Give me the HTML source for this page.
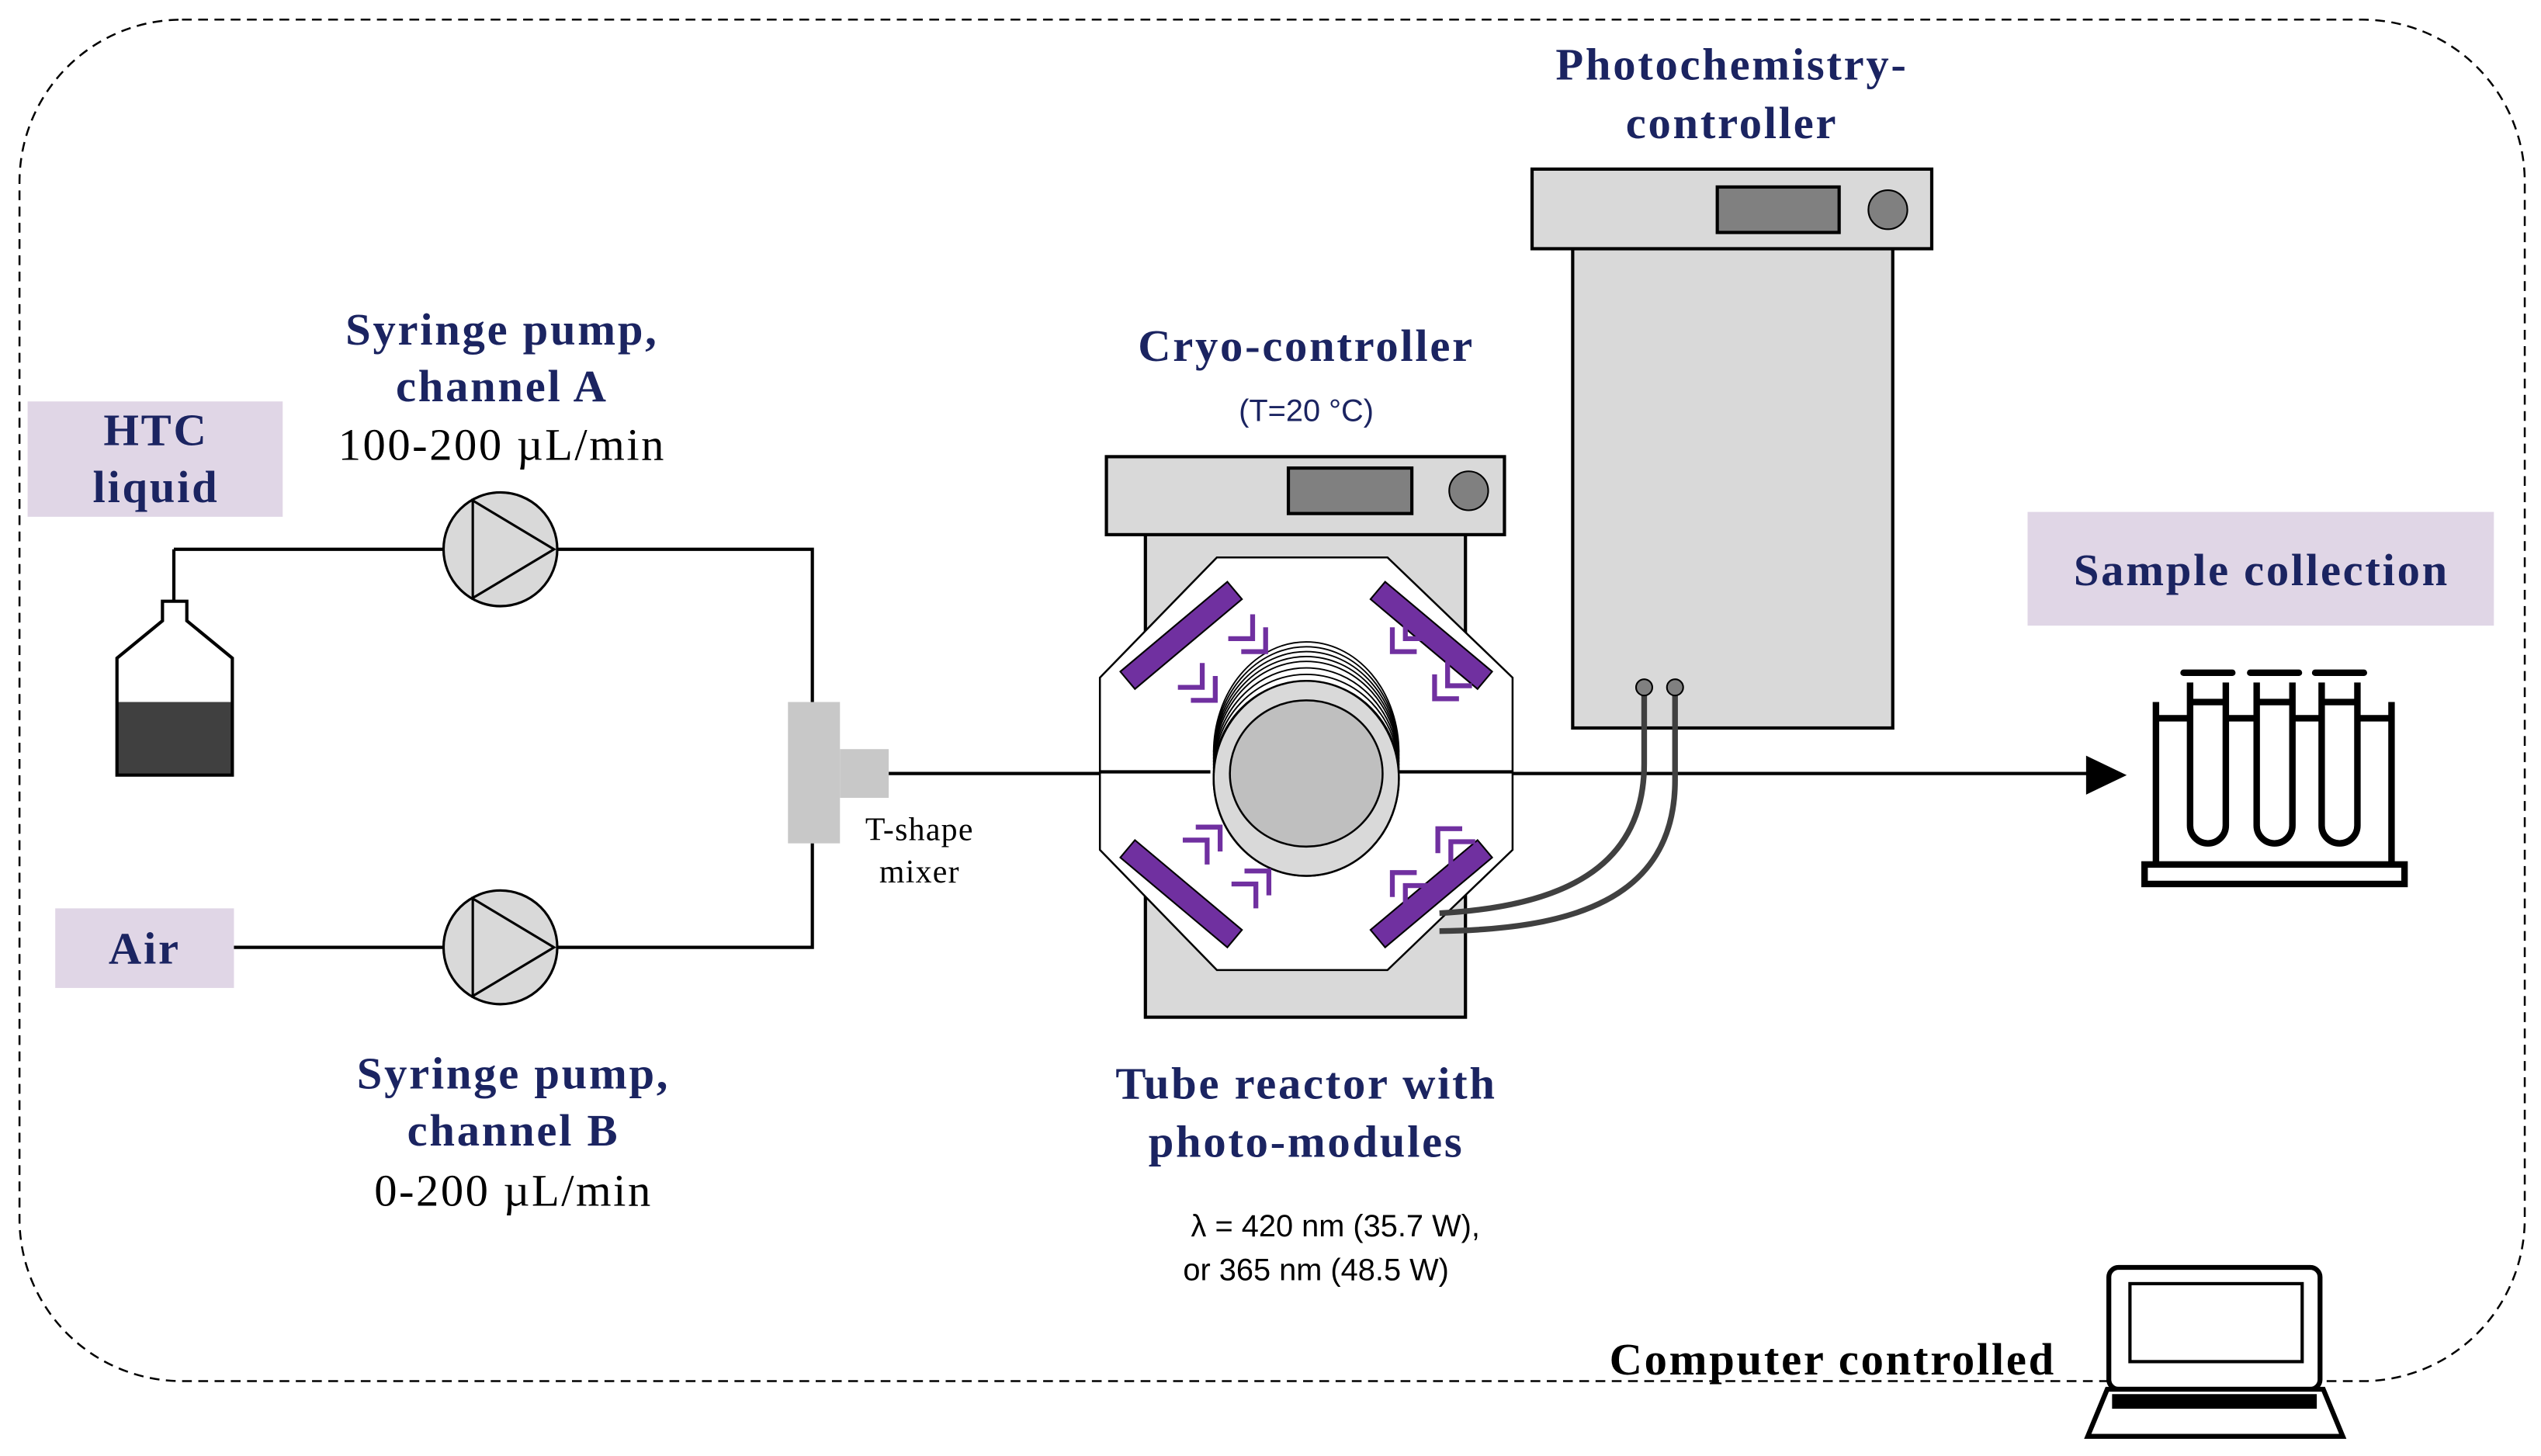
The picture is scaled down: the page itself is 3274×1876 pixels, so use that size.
<!DOCTYPE html>
<html><head><meta charset="utf-8"><style>
html,body{margin:0;padding:0;background:#fff;}
svg{display:block;}
.b{font-family:"Liberation Serif",serif;font-weight:bold;fill:#1b2461;font-size:28px;letter-spacing:1.3px;text-anchor:middle;}
.r{font-family:"Liberation Serif",serif;fill:#000;font-size:28px;letter-spacing:1.2px;text-anchor:middle;}
.s{font-family:"Liberation Serif",serif;fill:#000;font-size:20px;letter-spacing:0.6px;text-anchor:middle;}
.ss{font-family:"Liberation Sans",sans-serif;fill:#000;font-size:19px;text-anchor:middle;}
</style></head><body>
<svg width="3274" height="1876" viewBox="0 0 1564 896" xmlns="http://www.w3.org/2000/svg">
<rect x="12" y="12" width="1542" height="838" rx="100" fill="none" stroke="#000" stroke-width="1.2" stroke-dasharray="6,4"/>

<rect x="17" y="247" width="157" height="71" fill="#e0d6e6"/>
<text class="b" x="96" y="274">HTC</text>
<text class="b" x="96" y="309">liquid</text>
<rect x="34" y="559" width="110" height="49" fill="#e0d6e6"/>
<text class="b" x="89" y="593">Air</text>
<rect x="1248" y="315" width="287" height="70" fill="#e0d6e6"/>
<text class="b" x="1392" y="360">Sample collection</text>

<path d="M107,338 V370" stroke="#000" stroke-width="2" fill="none"/>
<rect x="72" y="432" width="71" height="45" fill="#404040"/>
<path d="M100,370 H115 V382 L143,405 V477 H72 V405 L100,382 Z" fill="none" stroke="#000" stroke-width="2"/>

<g stroke="#000" stroke-width="2" fill="none">
<path d="M107,338 H273"/>
<path d="M343,338 H500 V432"/>
<path d="M144,583 H273"/>
<path d="M343,583 H500 V519"/>
<path d="M547,476 H1290"/>
</g>
<polygon points="1284,465 1309,477 1284,489" fill="#000"/>

<circle cx="308" cy="338" r="35" fill="#d9d9d9" stroke="#000" stroke-width="1.5"/>
<polygon points="291,308 291,368 341,338" fill="#d9d9d9" stroke="#000" stroke-width="1.5"/>
<circle cx="308" cy="583" r="35" fill="#d9d9d9" stroke="#000" stroke-width="1.5"/>
<polygon points="291,553 291,613 341,583" fill="#d9d9d9" stroke="#000" stroke-width="1.5"/>

<rect x="485" y="432" width="32" height="87" fill="#c8c8c8"/>
<rect x="517" y="461" width="30" height="30" fill="#c8c8c8"/>
<text class="s" x="566" y="517">T-shape</text>
<text class="s" x="566" y="543">mixer</text>

<text class="b" x="309" y="212">Syringe pump,</text>
<text class="b" x="309" y="247">channel A</text>
<text class="r" x="309" y="283">100-200 µL/min</text>
<text class="b" x="316" y="670">Syringe pump,</text>
<text class="b" x="316" y="705">channel B</text>
<text class="r" x="316" y="742">0-200 µL/min</text>

<text class="b" x="804" y="222">Cryo-controller</text>
<text class="ss" x="804" y="259" style="fill:#1b2461">(T=20 °C)</text>
<rect x="705" y="329" width="197" height="297" fill="#d9d9d9" stroke="#000" stroke-width="2"/>
<rect x="681" y="281" width="245" height="48" fill="#d9d9d9" stroke="#000" stroke-width="2"/>
<rect x="793" y="288" width="76" height="28" fill="#808080" stroke="#000" stroke-width="2"/>
<circle cx="904" cy="302" r="12" fill="#808080" stroke="#000" stroke-width="1"/>
<polygon points="749,343 854,343 931,417 931,523 854,597 749,597 677,523 677,417" fill="#fff" stroke="#000" stroke-width="1.2"/>
<path d="M677,475 H745 M858,475 H931" stroke="#000" stroke-width="2"/>

<clipPath id="lo"><rect x="740" y="476" width="130" height="80"/></clipPath>
<ellipse cx="804" cy="479" rx="57" ry="60" fill="#d9d9d9" stroke="#000" stroke-width="1.2"/>
<g fill="none" stroke="#000" stroke-width="0.9">
<path d="M747,477 A57,58 0 0 1 861,477"/>
<path d="M747,475 A57,60 0 0 1 861,475"/>
<path d="M747,473 A57,62 0 0 1 861,473"/>
<path d="M747,471 A57,64 0 0 1 861,471"/>
<path d="M747,469 A57,65 0 0 1 861,469"/>
<path d="M747,467 A57,66 0 0 1 861,467"/>
<path d="M747,465 A57,67 0 0 1 861,465"/>
<path d="M747,463 A57,68 0 0 1 861,463"/>
</g>
<ellipse cx="804" cy="479" rx="57" ry="60" fill="#d9d9d9" stroke="#000" stroke-width="1.2" clip-path="url(#lo)"/>
<ellipse cx="804" cy="476" rx="47" ry="45" fill="#bfbfbf" stroke="#000" stroke-width="1.2"/>

<g fill="#7030a0" stroke="#000" stroke-width="1">
<rect x="-43" y="-7" width="86" height="14" transform="translate(727,391) rotate(-40)"/>
<rect x="-43" y="-7" width="86" height="14" transform="translate(881,391) rotate(40)"/>
<rect x="-43" y="-7" width="86" height="14" transform="translate(727,550) rotate(40)"/>
<rect x="-43" y="-7" width="86" height="14" transform="translate(881,550) rotate(-40)"/>
</g>
<g fill="none" stroke="#7030a0" stroke-width="3">
<path d="M771,378 V393 H756"/><path d="M779,386 V401 H764"/>
<path d="M740,408 V423 H725"/><path d="M748,416 V431 H733"/>
<path d="M865,378 V393 H880"/><path d="M857,386 V401 H872"/>
<path d="M891,407 V422 H906"/><path d="M883,415 V430 H898"/>
<path d="M736,509 H751 V524"/><path d="M728,517 H743 V532"/>
<path d="M766,536 H781 V551"/><path d="M758,544 H773 V559"/>
<path d="M900,510 H885 V525"/><path d="M908,518 H893 V533"/>
<path d="M872,537 H857 V552"/><path d="M880,545 H865 V560"/>
</g>

<text class="b" x="804" y="676">Tube reactor with</text>
<text class="b" x="804" y="712">photo-modules</text>
<text class="ss" x="822" y="761">λ = 420 nm (35.7 W),</text>
<text class="ss" x="810" y="788">or 365 nm (48.5 W)</text>

<text class="b" x="1066" y="49">Photochemistry-</text>
<text class="b" x="1066" y="85">controller</text>
<rect x="968" y="153" width="197" height="295" fill="#d9d9d9" stroke="#000" stroke-width="2"/>
<rect x="943" y="104" width="246" height="49" fill="#d9d9d9" stroke="#000" stroke-width="2"/>
<rect x="1057" y="115" width="75" height="28" fill="#808080" stroke="#000" stroke-width="2"/>
<circle cx="1162" cy="129" r="12" fill="#808080" stroke="#000" stroke-width="1"/>
<g fill="none" stroke="#404040" stroke-width="3.5">
<path d="M1012,423 V470 C1012,535 960,558 886,562"/>
<path d="M1031,423 V480 C1031,555 965,572 886,573"/>
</g>
<circle cx="1012" cy="423" r="5" fill="#808080" stroke="#000"/>
<circle cx="1031" cy="423" r="5" fill="#808080" stroke="#000"/>

<g fill="none" stroke="#000" stroke-width="4">
<rect x="1320" y="532" width="160" height="12"/>
<path d="M1327,432 V532 M1472,432 V532"/>
<path d="M1327,442 H1348 M1370,442 H1389 M1411,442 H1429 M1451,442 H1472"/>
<path d="M1348,420 V508 A11,11 0 0 0 1370,508 V420 M1348,432 H1370"/>
<path d="M1389,420 V508 A11,11 0 0 0 1411,508 V420 M1389,432 H1411"/>
<path d="M1429,420 V508 A11,11 0 0 0 1451,508 V420 M1429,432 H1451"/>
<path d="M1344,414 H1374 M1385,414 H1415 M1425,414 H1455" stroke-linecap="round"/>
</g>

<rect x="1298" y="780" width="130" height="75" rx="6" fill="#fff" stroke="#000" stroke-width="3"/>
<rect x="1311" y="790" width="106" height="48" fill="#fff" stroke="#000" stroke-width="2"/>
<polygon points="1297,855 1430,855 1442,884 1285,884" fill="#fff" stroke="#000" stroke-width="3"/>
<rect x="1300" y="858" width="126" height="9" fill="#000"/>
<text class="b" x="1128" y="846" style="fill:#000">Computer controlled</text>
</svg>
</body></html>
